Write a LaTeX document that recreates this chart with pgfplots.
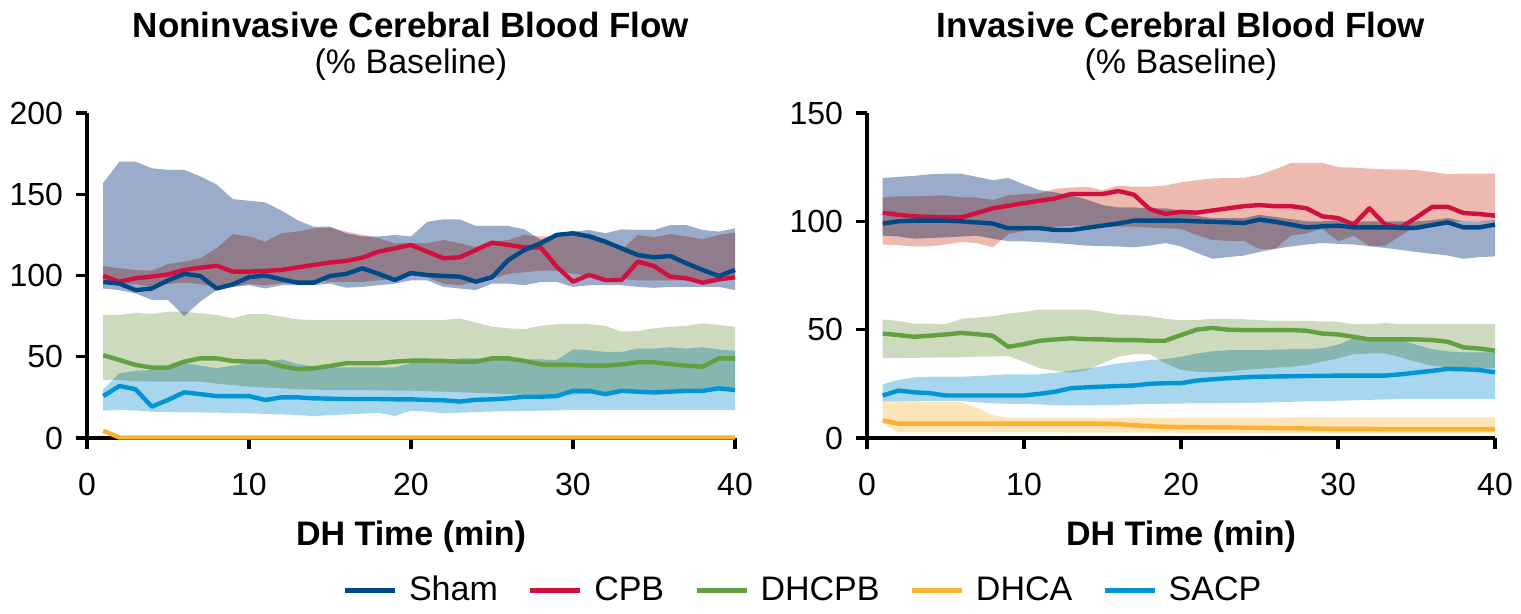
\documentclass[border=0pt]{standalone}
\usepackage{fontspec}
\setmainfont{Liberation Sans}
\usepackage{pgfplots}
\usepackage{pgfplotstable}
\usepgfplotslibrary{fillbetween}
\pgfplotsset{compat=1.18}

\definecolor{shamc}{RGB}{0,73,135}
\definecolor{cpbc}{RGB}{210,16,64}
\definecolor{dhcpbc}{RGB}{98,160,64}
\definecolor{dhcac}{RGB}{251,178,52}
\definecolor{sacpc}{RGB}{0,150,214}
\definecolor{shamb}{RGB}{155,172,203}
\definecolor{cpbb}{RGB}{238,185,175}
\definecolor{dhcpbb}{RGB}{205,218,190}
\definecolor{sacpb}{RGB}{168,214,238}
\definecolor{dhcab}{RGB}{254,228,185}

% ---------------- Left panel: Noninvasive ----------------
\pgfplotstableread{
t m lo hi
1 96 92 157
2 95 91 170
3 91 89 170
4 92 85 166
5 97 85 165
6 101 75 165
7 99.7 84 161
8 92 91 156
9 94.5 93 147
10 99 94 146
11 100 92 145
12 97.6 94 140
13 95.6 94 134
14 95.6 94 130
15 99.7 95 130
16 101 92.5 126
17 104.4 93 124
18 101 94 124
19 97.2 95 125
20 101.5 97 124
21 100.3 97 133
22 99.7 93 134.6
23 99.3 92 134.6
24 96.2 91 130.5
25 98.9 95 130.5
26 109.5 95 130.5
27 115.7 94 128.4
28 119.8 96 122
29 125 96 125.5
30 126 93 127
31 124 94 128
32 120.8 94 126
33 116.7 94 128.4
34 112.6 93 128
35 111.2 92.4 128
36 112 93 131
37 107.5 93 131
38 103.4 93 128
39 99.7 93 127
40 103.4 91 129
}\shamL

\pgfplotstableread{
t m lo hi
1 99.7 96 105.8
2 96.2 95 104.4
3 98.3 94.6 103.4
4 99.3 93 103
5 100.7 94.8 107
6 103.4 95.6 108.5
7 104.8 94.8 110.6
8 106 93 116.7
9 102.4 93 125.5
10 102.4 94.8 124
11 102.8 94 120.8
12 103.4 95 126
13 105 96 127
14 106.5 97 129
15 108 96 129.6
16 109 96 127
17 111 96 125
18 114.7 97 122.9
19 116.7 98 119.8
20 118.8 100 120
21 114.7 99 119.8
22 110.6 95 121.8
23 111.2 94 119.8
24 115.7 96 117.5
25 120.2 98 120.8
26 118.8 101 121.8
27 117.3 102 125
28 117.3 103 124
29 105.4 103 124
30 96.2 101 125.5
31 100.3 100 126
32 97.2 99 121.8
33 97.2 98 115.7
34 108.5 97 125
35 105.8 97 123.5
36 99.3 97 125.5
37 98.3 97 124
38 95.6 97 122.3
39 97.6 97 125
40 98.9 98 126.4
}\cpbL

\pgfplotstableread{
t m lo hi
1 51 35.7 75.7
2 48 35.7 75.7
3 45 35 77
4 43.3 34.7 76.3
5 43.3 34.7 77.7
6 47 34.7 77.7
7 49 34.7 76.7
8 49 33.5 75.7
9 47.4 32.6 73.6
10 47 31.6 76.3
11 47 31 76.3
12 44.3 30.6 74.7
13 42.3 30 73
14 42.9 29.8 72.6
15 44.3 29.6 72.6
16 46 29.5 72.6
17 46 29.5 72.6
18 46 29.3 72.6
19 47 29.2 72.6
20 47.6 29.1 72.6
21 47.6 28.8 72.6
22 47.4 28.5 72.6
23 47 28.2 73.6
24 47 27.8 71
25 49 27.4 68.5
26 49 27 67.5
27 47.4 26.6 67
28 45.3 26.5 69
29 45 26.5 70
30 45 26.8 70
31 44.5 27.2 70
32 44.5 27.6 69
33 45.3 28 65.4
34 46.6 28.5 65.8
35 46.6 29 67.5
36 45.5 29.5 68.5
37 44.5 30 69
38 43.9 30.5 70.6
39 49 30.8 69.5
40 49 31 68.5
}\dhcpbL

\pgfplotstableread{
t m lo hi
1 25.8 16.8 30
2 32 17.2 39.8
3 30 17 41.4
4 19.3 16.2 41.8
5 23.4 16 42.3
6 28.1 15.8 46
7 27 15.7 44.5
8 25.8 15.6 43
9 25.8 15.4 44.5
10 25.8 15.2 46
11 23.4 14.8 47
12 25 14.5 48.4
13 25 14.2 45.5
14 24.4 13.5 44
15 24.2 14 43.5
16 24 14.5 43.5
17 24 15 43.5
18 24 15.5 43.5
19 23.8 13.5 43.5
20 23.8 16.8 46
21 23.4 16.2 46.5
22 23.2 15.2 46.5
23 22.4 15.5 49
24 23.5 16 49
25 23.8 16.3 48
26 24.4 16.5 48
27 25.4 16.7 48.4
28 25.4 16.8 48.4
29 25.8 17 48
30 29 17.2 54.6
31 29 17.2 54
32 27 17.2 53
33 29 17.2 53
34 28.5 17.2 55
35 28 17.2 55
36 28.5 17.2 55.8
37 29 17.2 55
38 29 17.2 55.8
39 30.6 17.2 54.5
40 29.5 17.2 53.7
}\sacpL

\pgfplotstableread{
t m
1 4.5
2 0.3
3 0.3
4 0.3
5 0.3
6 0.3
7 0.3
8 0.3
9 0.3
10 0.3
11 0.3
12 0.3
13 0.3
14 0.3
15 0.3
16 0.3
17 0.3
18 0.3
19 0.3
20 0.3
21 0.3
22 0.3
23 0.3
24 0.3
25 0.3
26 0.3
27 0.3
28 0.3
29 0.3
30 0.3
31 0.3
32 0.3
33 0.3
34 0.3
35 0.3
36 0.3
37 0.3
38 0.3
39 0.3
40 0.3
}\dhcaL

% ---------------- Right panel: Invasive ----------------
\pgfplotstableread{
t m lo hi
1 99 93.4 120
2 100 93 120.5
3 100.3 92 121
4 100.3 92.3 121.7
5 100.3 92.6 122
6 100 93 122
7 99.5 93.4 120.5
8 99 92 119
9 96.8 90.8 120
10 96.8 90.8 117
11 96.8 90.4 114.4
12 96 90 113.3
13 96 89.4 112
14 97 88.8 110
15 98 88.6 107.5
16 99 88.4 106.4
17 100.3 88 106.4
18 100.3 88.8 106
19 100.3 90 106
20 100.3 88.4 105
21 100 85.5 102.5
22 99.8 82.7 101.5
23 99.5 83.5 101.5
24 99.2 84.2 101.5
25 100.8 85.8 103
26 99.8 87.3 102
27 98.5 88.4 101
28 97.2 89.3 100
29 97.7 90 100
30 98 89.6 100.5
31 97.2 89.3 100
32 97.2 88.5 100
33 97.2 87.7 100
34 97 86.8 100
35 97 85.8 100
36 98.3 85 100.5
37 99.5 84.2 101.5
38 97.2 82.7 100
39 97.2 83.5 100
40 98.5 83.8 100.5
}\shamR

\pgfplotstableread{
t m lo hi
1 104 89.3 111
2 103 89 111.5
3 102.3 88.4 111.5
4 102 88.4 111.8
5 101.8 89.3 112
6 101.8 90.4 111
7 103.8 90 111
8 106 88 109.8
9 107.2 94 112
10 108.4 95.6 112.6
11 109.5 96.8 112.9
12 110.6 97.5 115
13 112.6 98 115.6
14 112.6 98 116
15 112.6 97.5 114.4
16 114 97.5 116.5
17 112.3 97.5 116
18 105.7 97.2 116
19 103.4 96.8 116.5
20 104.4 96.5 118
21 104 93.7 119
22 105 91.4 119.8
23 106 91 120
24 107 91 120
25 107.5 87.3 121.5
26 107 87.3 124
27 107 93.4 127
28 106 94.5 127
29 102.3 96.5 127
30 101.5 90.8 125
31 98.5 93.4 124.8
32 106 88.5 124.3
33 98.5 88.8 124
34 97.2 93.4 123.9
35 101.8 98 123.6
36 106.7 99 122.8
37 106.7 99.8 121.7
38 103.8 100 122
39 103.4 100 122
40 102.6 100 122
}\cpbR

\pgfplotstableread{
t m lo hi
1 48.2 36.8 54.7
2 47.5 36.9 54
3 46.7 37 52.8
4 47.2 37.1 52.8
5 47.8 37.2 52.5
6 48.5 37.3 55
7 47.9 37.5 55.6
8 47.2 37.6 56.2
9 42.1 37.8 57.4
10 43.3 35.2 58.2
11 44.9 32.2 59.3
12 45.5 31 59.3
13 46 30.2 59.3
14 45.6 31.4 59.3
15 45.5 34.5 58.2
16 45.2 37.5 57
17 45.2 38.7 56.7
18 44.9 38.7 56.2
19 44.9 34.5 55
20 47.5 31.4 54.4
21 50 30.6 54.4
22 50.8 30.3 55
23 50 30.6 55
24 49.8 31.4 54.8
25 49.8 31.9 54.4
26 49.8 32.5 54
27 49.8 32.9 54
28 49.5 33.7 54
29 48.2 35.2 53.8
30 47.8 36.8 53.6
31 46.7 38.7 52.5
32 45.5 39 52.5
33 45.5 39 53.1
34 45.5 37.2 52.5
35 45.5 35.2 52.5
36 45.2 33.4 52.5
37 44.4 32.5 52.5
38 41.8 32.2 52.5
39 41.3 32.2 52.5
40 40.3 32.2 52.5
}\dhcpbR

\pgfplotstableread{
t m lo hi
1 19.6 17 24.8
2 21.9 17 26.8
3 21.1 17 28
4 20.7 17 28.3
5 19.6 17 28.3
6 19.6 17 28.3
7 19.6 16.5 28.6
8 19.6 16 29
9 19.6 15.8 29.4
10 19.6 15.8 29.4
11 20.4 15.5 29.4
12 21.4 15 30.2
13 23 15 31
14 23.4 15 32
15 23.7 15.2 33.2
16 24 15.3 34.4
17 24.2 15.5 35.2
18 25 15.8 36
19 25.3 15.8 36.4
20 25.3 15.9 37.5
21 26.5 16 39
22 27.1 16 40
23 27.6 16.1 40.5
24 28 16.2 40.6
25 28.3 16.3 40.6
26 28.4 16.5 40.8
27 28.5 16.7 41
28 28.6 16.9 41
29 28.7 17 41.5
30 28.8 17.2 43
31 28.8 17.4 46
32 28.8 17.6 46
33 28.8 17.8 46
34 29.4 18 45
35 30.2 18.1 43
36 31 18.1 41
37 31.9 18.1 40
38 31.7 18.1 39.5
39 31.4 18.1 39.5
40 30.3 18.1 39.5
}\sacpR

\pgfplotstableread{
t m lo hi
1 8.1 6.8 17.2
2 6.6 2.6 17
3 6.6 2.6 16.8
4 6.6 2.6 16.6
5 6.6 2.6 16.5
6 6.6 2.6 16.5
7 6.6 2.6 14
8 6.6 2.6 10.5
9 6.6 2.6 9.4
10 6.6 2.6 9.3
11 6.6 2.6 9.3
12 6.6 2.6 9.3
13 6.6 2.5 9.3
14 6.6 2.5 9.3
15 6.6 2.5 9.3
16 6.4 2.5 9.3
17 5.9 2.5 9.3
18 5.4 2.5 9.3
19 5.2 2.5 9.3
20 5.0 2.4 9.4
21 5.0 2.4 9.4
22 4.9 2.4 9.4
23 4.9 2.4 9.4
24 4.8 2.4 9.4
25 4.7 2.4 9.4
26 4.6 2.4 9.4
27 4.5 2.4 9.5
28 4.4 2.4 9.5
29 4.3 2.3 9.5
30 4.2 2.3 9.5
31 4.2 2.3 9.5
32 4.2 2.3 9.5
33 4.1 2.3 9.5
34 4.1 2.3 9.5
35 4.1 2.3 9.5
36 4.1 2.3 9.5
37 4.1 2.3 9.5
38 4.1 2.3 9.5
39 4.1 2.3 9.5
40 4.1 2.3 9.5
}\dhcaR

\newcommand{\band}[3]{%
  \addplot[draw=none, forget plot, name path=#1hi] table[x=t,y=hi]{#2};
  \addplot[draw=none, forget plot, name path=#1lo] table[x=t,y=lo]{#2};
  \addplot[fill=#3, draw=none, forget plot, blend mode=multiply] fill between[of=#1hi and #1lo];
}

\pgfplotsset{
  panel/.style={
    scale only axis, anchor=south west, clip=false,
    xmin=0, xmax=40, ymin=0,
    axis x line*=bottom, axis y line*=left,
    axis line style={line width=1.6pt, black},
    xtick={0,10,20,30,40},
    tick align=outside, major tick length=5.5pt,
    every tick/.style={black, line width=1.6pt},
    tick label style={font=\fontsize{16}{19}\selectfont},
    /pgf/number format/assume math mode=true,
    xticklabel style={yshift=-8.5pt},
    yticklabel style={xshift=-3pt},
  },
  ml/.style={line width=2.2pt, line join=round},
}

\begin{document}
\begin{tikzpicture}
\path (0,0) rectangle (760.5pt,-305.5pt);

\begin{axis}[panel, at={(43.5pt,-219pt)}, width=324pt, height=162.5pt,
  ymax=200, ytick={0,50,100,150,200},
  legend columns=5, reverse legend,
  legend style={at={(1.108,-0.468)}, anchor=center, draw=none, fill=none,
    font=\fontsize{17}{20}\selectfont,
    /tikz/every even column/.append style={column sep=12pt},
    nodes={inner sep=3pt}},
  legend image code/.code={\draw[#1, line width=2.4pt] (0pt,0pt) -- (25pt,0pt); \path[draw=none, fill=none] (0pt,0pt) -- (29pt,0pt);},
]
\band{a}{\shamL}{shamb}
\band{b}{\cpbL}{cpbb}
\band{c}{\dhcpbL}{dhcpbb}
\band{d}{\sacpL}{sacpb}
\addplot[ml, sacpc] table[x=t,y=m]{\sacpL};
\addlegendentry{SACP}
\addplot[ml, dhcac] table[x=t,y=m]{\dhcaL};
\addlegendentry{DHCA}
\addplot[ml, dhcpbc] table[x=t,y=m]{\dhcpbL};
\addlegendentry{DHCPB}
\addplot[ml, cpbc] table[x=t,y=m]{\cpbL};
\addlegendentry{CPB}
\addplot[ml, shamc] table[x=t,y=m]{\shamL};
\addlegendentry{Sham}
\end{axis}

\begin{axis}[panel, at={(433.5pt,-219pt)}, width=314pt, height=162.5pt,
  ymax=150, ytick={0,50,100,150},
]
\band{a}{\shamR}{shamb}
\band{b}{\cpbR}{cpbb}
\band{c}{\dhcpbR}{dhcpbb}
\band{d}{\sacpR}{sacpb}
\band{e}{\dhcaR}{dhcab}
\addplot[ml, sacpc] table[x=t,y=m]{\sacpR};
\addplot[ml, dhcac] table[x=t,y=m]{\dhcaR};
\addplot[ml, dhcpbc] table[x=t,y=m]{\dhcpbR};
\addplot[ml, cpbc] table[x=t,y=m]{\cpbR};
\addplot[ml, shamc] table[x=t,y=m]{\shamR};
\end{axis}

\node[font=\fontsize{17.5}{20}\selectfont\bfseries] at (205.5pt,-12.5pt) {Noninvasive Cerebral Blood Flow};
\node[font=\fontsize{17}{20}\selectfont] at (205.5pt,-32.5pt) {(\% Baseline)};
\node[font=\fontsize{17.5}{20}\selectfont\bfseries] at (590.5pt,-12.5pt) {Invasive Cerebral Blood Flow};
\node[font=\fontsize{17}{20}\selectfont] at (590.5pt,-32.5pt) {(\% Baseline)};
\node[font=\fontsize{17}{20}\selectfont\bfseries] at (205.5pt,-268.5pt) {DH Time (min)};
\node[font=\fontsize{17}{20}\selectfont\bfseries] at (590.5pt,-268.5pt) {DH Time (min)};
\end{tikzpicture}
\end{document}
